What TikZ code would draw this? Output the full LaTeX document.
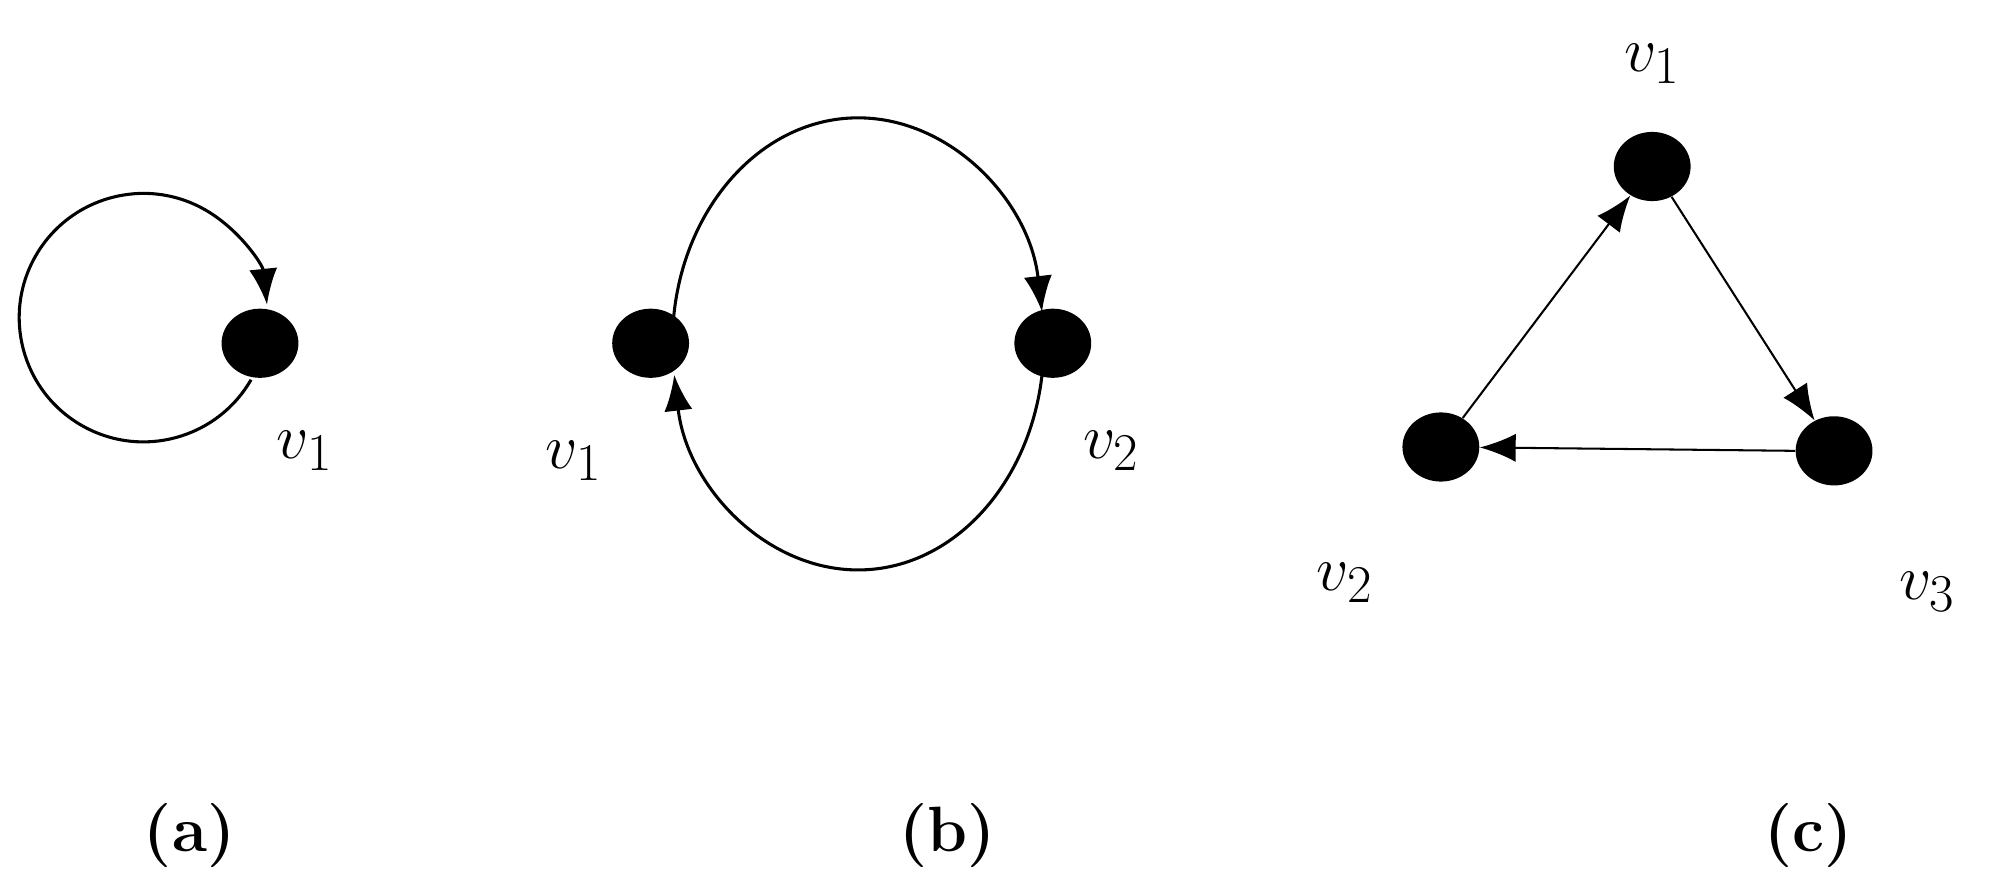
\documentclass[tikz,border=0pt]{standalone}
\usetikzlibrary{arrows.meta,shapes.geometric}
\begin{document}
\begin{tikzpicture}[x=0.5pt,y=0.5pt,
  vert/.style={ellipse,fill=black,minimum width=30pt,minimum height=27pt,inner sep=0pt},
  edge/.style={line width=1.2pt,-{Latex[length=14pt,width=11pt]}},
  lab/.style={font=\fontsize{28}{32}\selectfont},
  subcap/.style={font=\fontsize{25}{30}\selectfont\bfseries}]
\useasboundingbox (0,0) rectangle (1560,-681);
% (a)
\node[vert] (a1) at (203,-268) {};
\coordinate (ac) at (112,-248);
\draw[edge] ([shift={(-30:97)}]ac) arc[start angle=-30,end angle=-354,radius=97];
\node[lab] (la1) at (238,-352) {$v_1$};
% (b)
\node[vert] (b1) at (508,-268) {};
\node[vert] (b2) at (822,-268) {};
\draw[edge] (525,-268) arc[start angle=180,end angle=8,x radius=145,y radius=176];
\draw[edge] (815,-268) arc[start angle=0,end angle=-172,x radius=145,y radius=177];
\node[lab] (lb1) at (448,-360) {$v_1$};
\node[lab] (lb2) at (868,-352) {$v_2$};
% (c)
\node[vert] (c1) at (1290,-130) {};
\node[vert] (c2) at (1125,-349) {};
\node[vert] (c3) at (1432,-352) {};
\draw[edge,line width=0.8pt] (c2) -- (c1);
\draw[edge,line width=0.8pt] (c1) -- (c3);
\draw[edge,line width=0.8pt] (c3.west) -- (c2);
\node[lab] (lc1) at (1290,-50) {$v_1$};
\node[lab] (lc2) at (1050,-455) {$v_2$};
\node[lab] (lc3) at (1505,-462) {$v_3$};
% captions
\node[subcap] (ca) at (148,-652) {(a)};
\node[subcap] (cb) at (740,-652) {(b)};
\node[subcap] (cc) at (1412,-652) {(c)};
\end{tikzpicture}
\end{document}
